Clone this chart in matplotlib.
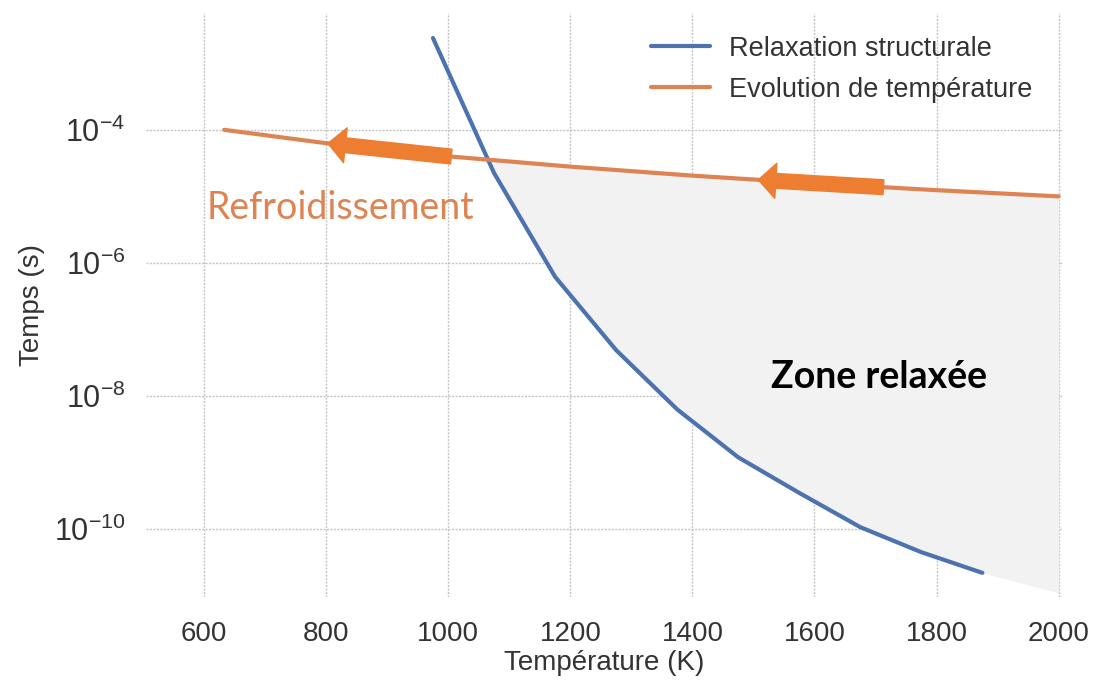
import numpy as np
import matplotlib.pyplot as plt

# Données
T_relax = [975, 1075, 1175, 1275, 1375, 1475, 1575, 1675, 1775, 1875]
t_relax = [2.4e-3, 2.25e-5, 6.2e-7, 4.9e-8, 6.3e-9, 1.2e-9, 3.5e-10, 1.07e-10, 4.5e-11, 2.2e-11]

T_cool = [633, 800, 1000, 1200, 1400, 1600, 1800, 2000]
t_cool = [1.0e-4, 6.3e-5, 4.0e-5, 2.8e-5, 2.05e-5, 1.57e-5, 1.24e-5, 1.0e-5]

# prolongement de la zone grisée jusqu'à 2000 K
T_zone_end = 2000
t_zone_end = 1.1e-11

# flèches le long de la courbe de refroidissement (début -> fin)
arrow_from = [1005, 1713]
arrow_to = [803, 1508]

blue = '#4C72B0'
orange = '#DD8452'
arrow_col = '#ED7D31'

plt.rcParams['font.family'] = ['Liberation Sans', 'DejaVu Sans']

fig = plt.figure(figsize=(10.94, 6.84), dpi=100)
ax = fig.add_axes([0.1335, 0.127, 0.837, 0.854])

# zone relaxée
Tf = np.linspace(T_relax[0], T_zone_end, 400)
lo = 10 ** np.interp(Tf, T_relax + [T_zone_end], np.log10(t_relax + [t_zone_end]))
hi = 10 ** np.interp(Tf, T_cool, np.log10(t_cool))
ax.fill_between(Tf, lo, hi, where=hi > lo, interpolate=True, color='#f2f2f2', lw=0, zorder=1)

ax.plot(T_relax, t_relax, color=blue, lw=3, label='Relaxation structurale', zorder=3,
        solid_capstyle='round')
ax.plot(T_cool, t_cool, color=orange, lw=3, label='Evolution de température', zorder=3,
        solid_capstyle='round')

for a, b in zip(arrow_from, arrow_to):
    ya = 10 ** np.interp(a, T_cool, np.log10(t_cool))
    yb = 10 ** np.interp(b, T_cool, np.log10(t_cool))
    ax.annotate('', xy=(b, yb), xytext=(a, ya), zorder=4,
                arrowprops=dict(arrowstyle='simple,head_length=0.45,head_width=0.9,tail_width=0.38',
                                color=arrow_col, shrinkA=0, shrinkB=0, mutation_scale=28))

ax.set_yscale('log')
ax.set_xlim(505, 2005)
ax.set_ylim(9.5e-12, 5.7e-3)
ax.set_xticks([600, 800, 1000, 1200, 1400, 1600, 1800, 2000])
ax.set_yticks([1e-10, 1e-8, 1e-6, 1e-4])
ax.minorticks_off()

ax.grid(True, color='#c4c4c4', lw=1, ls=(0, (1.5, 1)))
ax.set_axisbelow(True)
for s in ax.spines.values():
    s.set_visible(False)
ax.tick_params(length=0, colors='#333333')
ax.tick_params(axis='x', labelsize=20, pad=17)
ax.tick_params(axis='y', labelsize=22, pad=15)

ax.set_xlabel('Température (K)', fontsize=20, color='#333333', labelpad=2)
ax.set_ylabel('Temps (s)', fontsize=20, color='#333333', labelpad=6)

ax.text(605, 10 ** -5.34, 'Refroidissement', fontsize=27, color=orange, family=['Lato', 'DejaVu Sans'],
        va='baseline', ha='left', zorder=5)
ax.text(1528, 10 ** -7.88, 'Zone relaxée', fontsize=27, color='black', fontweight='bold',
        family=['Lato', 'DejaVu Sans'], va='baseline', ha='left', zorder=5)

leg = ax.legend(loc='upper right', bbox_to_anchor=(0.968, 0.961), frameon=False, fontsize=19.5,
                handlelength=2.2, handletextpad=0.7, borderaxespad=0, borderpad=0, labelspacing=0.55)
for t in leg.get_texts():
    t.set_color('#333333')

fig.savefig('out.png', dpi=100)
